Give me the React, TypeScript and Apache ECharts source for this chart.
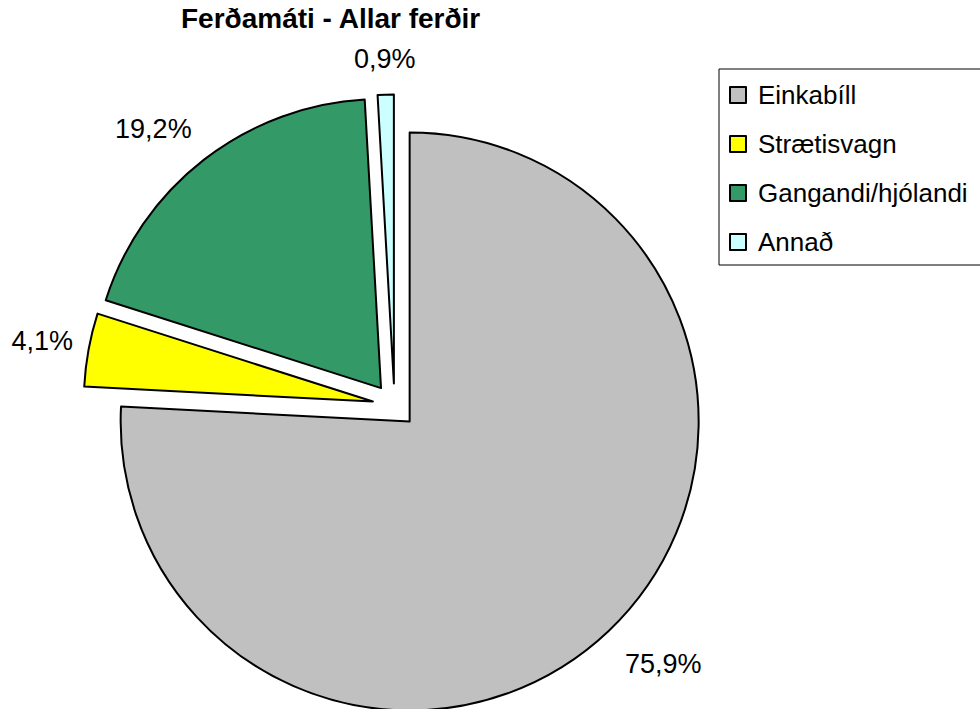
import React, { useEffect, useRef } from "react";
import * as echarts from "echarts";

const titleText = "Ferðamáti - Allar ferðir";
const categories = ["Einkabíll", "Strætisvagn", "Gangandi/hjólandi", "Annað"];
const values = [75.9, 4.1, 19.2, 0.9];
const colors = ["#C0C0C0", "#FFFF00", "#339966", "#CCFFFF"];
const labelLengths = [62, 47, 55, 36];
const labelNudges = [
  [12, -12],
  [0, 0],
  [-17, 13],
  [0, 0],
];

const FONT = "'Liberation Sans', Arial, sans-serif";

export default function App() {
  const ref = useRef<HTMLDivElement>(null);
  useEffect(() => {
    if (!ref.current) return;
    const chart = echarts.init(ref.current, null, { renderer: "svg" });
    const data = categories.map((name, i) => ({
      name,
      value: values[i],
      selected: true,
      itemStyle: { color: colors[i] },
      select: { itemStyle: { color: colors[i], borderColor: "#000", borderWidth: 2 } },
      labelLine: { show: false, length: labelLengths[i], length2: 0 },
    }));
    chart.setOption({
      animation: false,
      backgroundColor: "#fff",
      title: {
        text: titleText,
        left: 181,
        top: 4,
        padding: 0,
        textStyle: { fontFamily: FONT, fontSize: 28, fontWeight: "bold", color: "#000" },
      },
      legend: {
        orient: "vertical",
        left: 719,
        top: 69,
        padding: [13, 24, 10, 10],
        borderColor: "#000",
        borderWidth: 1,
        itemWidth: 16,
        itemHeight: 16,
        itemGap: 23,
        icon: "rect",
        selectedMode: false,
        itemStyle: { borderColor: "#000", borderWidth: 2 },
        textStyle: { fontFamily: FONT, fontSize: 26, color: "#000", padding: [0, 0, 0, 7] },
        data: categories,
      },
      series: [
        {
          type: "pie",
          center: [394.5, 405.5],
          radius: 289,
          startAngle: 90,
          clockwise: true,
          selectedMode: "multiple",
          selectedOffset: 22,
          avoidLabelOverlap: false,
          silent: true,
          emphasis: { disabled: true },
          itemStyle: { borderColor: "#000", borderWidth: 2 },
          label: {
            show: true,
            position: "outside",
            fontFamily: FONT,
            fontSize: 27,
            color: "#000",
            distanceToLabelLine: 0,
            formatter: (p: any) => p.value.toFixed(1).replace(".", ",") + "%",
          },
          labelLine: { show: false, length2: 0 },
          labelLayout: (p: any) => ({
            align: "center",
            verticalAlign: "middle",
            dx: labelNudges[p.dataIndex][0],
            dy: labelNudges[p.dataIndex][1],
          }),
          data,
        },
      ],
    });
    return () => chart.dispose();
  }, []);
  return (
    <div
      ref={ref}
      style={{ position: "fixed", left: 0, top: 0, width: 980, height: 709, background: "#fff" }}
    />
  );
}
